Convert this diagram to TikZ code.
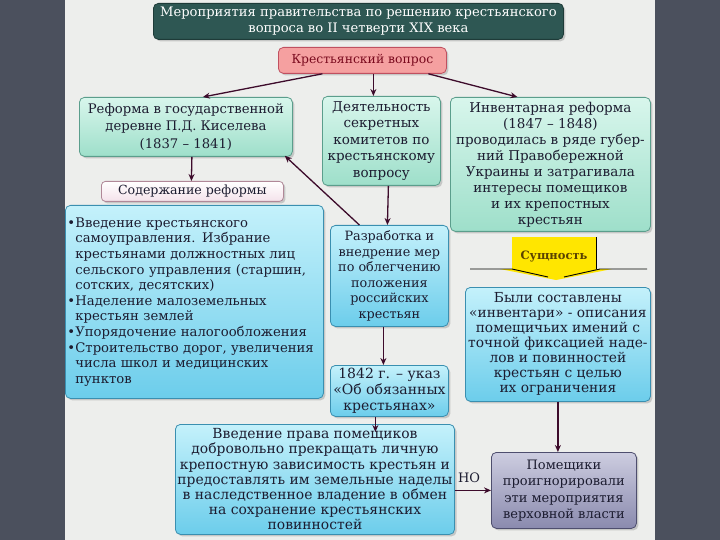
\documentclass[tikz,border=0pt]{standalone}
\usepackage{fontspec}
\setmainfont{DejaVu Serif}
\usetikzlibrary{shadows,arrows.meta,calc}
\definecolor{bgc}{HTML}{4B505D}
\definecolor{panel}{HTML}{EDEEEC}
\definecolor{txt}{HTML}{1C1C30}
\definecolor{mintT}{HTML}{D8F6EC}
\definecolor{mintB}{HTML}{9EDFCA}
\definecolor{mintD}{HTML}{5B9E8C}
\definecolor{cyanT}{HTML}{C4F1FB}
\definecolor{cyanB}{HTML}{6CCDEB}
\definecolor{cyanD}{HTML}{3A8FB0}
\definecolor{purpT}{HTML}{CDCDE0}
\definecolor{purpB}{HTML}{8A8AAE}
\definecolor{purpD}{HTML}{4E4E6E}
\definecolor{titleC}{HTML}{2E5753}
\definecolor{titleD}{HTML}{1E3B38}
\definecolor{pinkC}{HTML}{F5A0A0}
\definecolor{pinkD}{HTML}{C05060}
\definecolor{pinkT}{HTML}{7A0A1E}
\definecolor{lilac}{HTML}{F4E2EA}
\definecolor{lilacD}{HTML}{B08898}
\definecolor{arrc}{HTML}{3D0B2B}
\definecolor{yel}{HTML}{FFE600}
\definecolor{yelT}{HTML}{5A4200}
\newcommand{\fs}[2]{\fontsize{#1}{#2}\selectfont}
\newcommand{\bul}{\makebox[8pt][l]{•}}
\newcommand{\ind}{\hspace*{8pt}}
\begin{document}
\begin{tikzpicture}[x=1pt,y=-1pt,
  box/.style={rounded corners=5pt, inner sep=2pt, align=center, anchor=north west,
    font=\fs{13}{15.5}, text=txt, line width=0.8pt,
    drop shadow={shadow xshift=2pt, shadow yshift=-2pt, opacity=0.35}},
  mint/.style={box, draw=mintD, top color=mintT, bottom color=mintB},
  cyanbox/.style={box, draw=cyanD, top color=cyanT, bottom color=cyanB},
  purpbox/.style={box, draw=purpD, top color=purpT, bottom color=purpB},
  arr/.style={-{Stealth[length=7pt,width=6pt]}, line width=1.3pt, draw=arrc}]
\useasboundingbox (0,0) rectangle (720,540);
\fill[bgc] (0,0) rectangle (720,540);
\fill[panel] (65,0) rectangle (655,540);

\node[box, draw=titleD, fill=titleC, text=white, minimum width=410pt, minimum height=36pt,
  font=\fs{13.1}{16}] (T) at (153,3)
  {Мероприятия правительства по решению крестьянского\\вопроса во II четверти XIX века};

\node[box, draw=pinkD, fill=pinkC, text=pinkT, minimum width=168pt, minimum height=26pt,
  font=\fs{12.4}{15}] (K) at (278,47)
  {Крестьянский вопрос};

\node[mint, minimum width=213pt, minimum height=59pt, font=\fs{13.2}{17.5}] (A) at (79,97)
  {Реформа в государственной\\деревне П.Д. Киселева\\(1837 – 1841)};

\node[mint, minimum width=118pt, minimum height=89pt, font=\fs{13.5}{16.5}] (B) at (322,96)
  {Деятельность\\секретных\\комитетов по\\крестьянскому\\вопросу};

\node[mint, minimum width=200pt, minimum height=134pt, font=\fs{13.5}{16}] (C) at (450,97)
  {Инвентарная реформа\\(1847 – 1848)\\проводилась в ряде губер-\\ний Правобережной\\Украины и затрагивала\\интересы помещиков\\и их крепостных\\крестьян};

\node[box, draw=lilacD, top color=white, bottom color=lilac, minimum width=182pt, minimum height=20pt,
  rounded corners=4pt, font=\fs{12.6}{15}] (S) at (101,181)
  {Содержание реформы};

\node[cyanbox, minimum width=258pt, minimum height=193pt, text width=254pt, align=left,
  inner sep=2pt, font=\fs{13.2}{15.6}] (D) at (65,205)
  {\bul Введение крестьянского\\
   \ind самоуправления. Избрание\\
   \ind крестьянами должностных лиц\\
   \ind сельского управления (старшин,\\
   \ind сотских, десятских)\\
   \bul Наделение малоземельных\\
   \ind крестьян землей\\
   \bul Упорядочение налогообложения\\
   \bul Строительство дорог, увеличения\\
   \ind числа школ и медицинских\\
   \ind пунктов};

\node[cyanbox, minimum width=118pt, minimum height=101pt, font=\fs{12.8}{15.5}] (E) at (330,225)
  {Разработка и\\внедрение мер\\по облегчению\\положения\\российских\\крестьян};

\node[cyanbox, minimum width=118pt, minimum height=51pt, font=\fs{14}{16}] (F) at (330,365)
  {1842 г. – указ\\«Об обязанных\\крестьянах»};

\node[cyanbox, minimum width=185pt, minimum height=114pt, font=\fs{13.8}{15}] (G) at (465,287)
  {Были составлены\\«инвентари» - описания\\помещичьих имений с\\точной фиксацией наде-\\лов и повинностей\\крестьян с целью\\их ограничения};

\node[cyanbox, minimum width=276pt, minimum height=110pt, font=\fs{13.9}{15.2}] (H) at (175,424)
  {Введение права помещиков\\добровольно прекращать личную\\крепостную зависимость крестьян и\\предоставлять им земельные наделы\\в наследственное владение в обмен\\на сохранение крестьянских\\повинностей};

\node[purpbox, minimum width=145pt, minimum height=76pt, font=\fs{13}{16.5}] (I) at (491,452)
  {Помещики\\проигнорировали\\эти мероприятия\\верховной власти};

% Сущность marker
\fill[yel] (512,237) -- (596,237) -- (596,269) -- (612,269) -- (556,280) -- (500,269) -- (512,269) -- cycle;
\draw[black, line width=0.9pt] (470,269) -- (512,269) -- (548,277);
\draw[black, line width=0.9pt] (564,277) -- (600,269) -- (647,269);
\draw[black, line width=0.9pt] (596,237) -- (596,269);
\node[font=\bfseries\fs{11.5}{13}, text=yelT] (Su) at (554,257) {Сущность};

% connectors
\draw[arr] ([xshift=-40pt]K.south) -- ([xshift=17pt]A.north);
\draw[arr] ([xshift=11pt]K.south) -- ([xshift=-8pt]B.north);
\draw[arr] ([xshift=66pt]K.south) -- ([xshift=-33pt]C.north);
\draw[arr] ([xshift=6pt]A.south) -- ([xshift=-1pt]S.north);
\draw[arr] ([xshift=7pt]B.south) -- ([xshift=-2pt]E.north);
\draw[arr] ([xshift=-30pt]E.north) -- ([xshift=-8pt,yshift=1pt]A.south east);
\draw[arr] ([xshift=-6pt]E.south) -- ([xshift=-6pt]F.north);
\draw[arr] ([xshift=-14pt]F.south) -- ([xshift=-14pt,yshift=-8pt]F.south |- H.north);
\draw[arr] (G.south) -- (G.south |- I.north);
\draw[arr] (H.east |- I.west) -- (I.west);
\node[font=\fs{13}{15}, text=txt] (NO) at (469,478) {НО};
\end{tikzpicture}
\end{document}
